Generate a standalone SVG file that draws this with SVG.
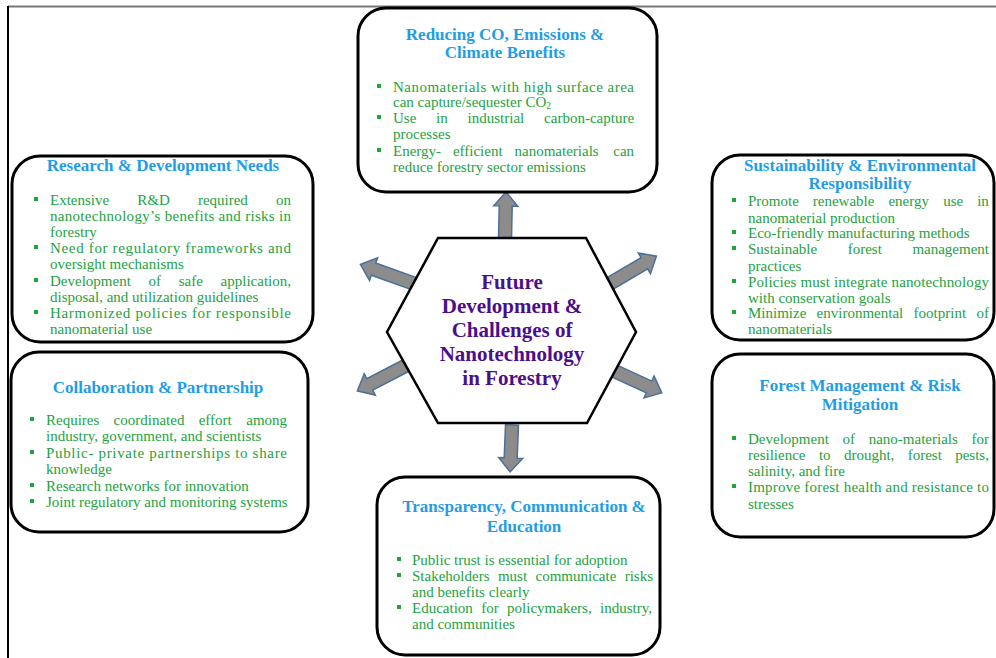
<svg xmlns="http://www.w3.org/2000/svg" width="996" height="658" viewBox="0 0 996 658">
<style>
.box{fill:#fff;stroke:#000;stroke-width:3}
.hex{fill:#fff;stroke:#000;stroke-width:2.5}
.ttl{font-family:"Liberation Serif","Times New Roman",serif;font-weight:bold;font-size:17px;fill:#1f9de6;text-anchor:middle}
.txt{font-family:"Liberation Serif","Times New Roman",serif;font-size:15px;fill:#22a33f}
.ctr{font-family:"Liberation Serif","Times New Roman",serif;font-weight:bold;font-size:21px;fill:#4b0f8c;text-anchor:middle}
.arr{fill:#8c8c8c;stroke:#4d6f98;stroke-width:1.5;stroke-linejoin:miter}
.bul{fill:#22a33f}
</style>
<rect width="996" height="658" fill="#fff"/>
<line x1="8" y1="6.5" x2="996" y2="6.5" stroke="#777" stroke-width="2"/>
<line x1="8" y1="6" x2="8" y2="658" stroke="#000" stroke-width="2"/>

<g id="connectors">
<polygon class="arr" transform="translate(505,240) rotate(-88.8)" points="0,-6.5 34,-6.5 34,-12 48,0 34,12 34,6.5 0,6.5"/>
<polygon class="arr" transform="translate(512,425) rotate(92.3)" points="0,-6.5 33,-6.5 33,-12 47,0 33,12 33,6.5 0,6.5"/>
<polygon class="arr" transform="translate(415,284) rotate(-160.3)" points="0,-6.5 44,-6.5 44,-12 58,0 44,12 44,6.5 0,6.5"/>
<polygon class="arr" transform="translate(609,284) rotate(-30.4)" points="0,-6.5 41,-6.5 41,-12 55,0 41,12 41,6.5 0,6.5"/>
<polygon class="arr" transform="translate(407,365) rotate(152.5)" points="0,-6.5 42,-6.5 42,-12 56,0 42,12 42,6.5 0,6.5"/>
<polygon class="arr" transform="translate(610,369) rotate(24.7)" points="0,-6.5 43,-6.5 43,-12 57,0 43,12 43,6.5 0,6.5"/>
</g>

<g id="center">
<polygon class="hex" points="438,238 586,238 636,332 587,423 438,423 387,332"/>
<text class="ctr" x="512" y="289">Future</text>
<text class="ctr" x="512" y="313">Development &amp;</text>
<text class="ctr" x="512" y="337">Challenges of</text>
<text class="ctr" x="512" y="361">Nanotechnology</text>
<text class="ctr" x="512" y="385">in Forestry</text>
</g>

<g id="climate">
<rect class="box" x="358" y="8" width="299" height="184" rx="28"/>
<text class="ttl" x="505" y="40">Reducing CO, Emissions &amp;</text>
<text class="ttl" x="505" y="58">Climate Benefits</text>
<rect class="bul" x="377" y="84" width="4" height="4"/>
<rect class="bul" x="377" y="115" width="4" height="4"/>
<rect class="bul" x="377" y="148" width="4" height="4"/>
<text class="txt" x="393" y="92" textLength="241" lengthAdjust="spacing">Nanomaterials with high surface area</text>
<text class="txt" x="393" y="107">can capture/sequester CO<tspan font-size="9.5" dy="2">2</tspan></text>
<text class="txt" y="123"><tspan x="393">Use</tspan><tspan x="436.1">in</tspan><tspan x="467.6">industrial</tspan><tspan x="544.1">carbon-capture</tspan></text>
<text class="txt" x="393" y="139">processes</text>
<text class="txt" y="156"><tspan x="393">Energy-</tspan><tspan x="452.9">efficient</tspan><tspan x="514.5">nanomaterials</tspan><tspan x="613.3">can</tspan></text>
<text class="txt" x="393" y="172">reduce forestry sector emissions</text>
</g>

<g id="research">
<rect class="box" x="12" y="156" width="301" height="186" rx="28"/>
<text class="ttl" x="163" y="171">Research &amp; Development Needs</text>
<rect class="bul" x="34" y="197" width="4" height="4"/>
<rect class="bul" x="34" y="245" width="4" height="4"/>
<rect class="bul" x="34" y="278" width="4" height="4"/>
<rect class="bul" x="34" y="310" width="4" height="4"/>
<text class="txt" y="205"><tspan x="50">Extensive</tspan><tspan x="137.3">R&amp;D</tspan><tspan x="197.9">required</tspan><tspan x="276">on</tspan></text>
<text class="txt" x="50" y="221" textLength="241" lengthAdjust="spacing">nanotechnology’s benefits and risks in</text>
<text class="txt" x="50" y="237">forestry</text>
<text class="txt" x="50" y="253" textLength="241" lengthAdjust="spacing">Need for regulatory frameworks and</text>
<text class="txt" x="50" y="269">oversight mechanisms</text>
<text class="txt" y="286"><tspan x="50">Development</tspan><tspan x="148.5">of</tspan><tspan x="178.7">safe</tspan><tspan x="220.6">application,</tspan></text>
<text class="txt" x="50" y="302">disposal, and utilization guidelines</text>
<text class="txt" x="50" y="318" textLength="241" lengthAdjust="spacing">Harmonized policies for responsible</text>
<text class="txt" x="50" y="334">nanomaterial use</text>
</g>

<g id="collaboration">
<rect class="box" x="11" y="352" width="297" height="180" rx="28"/>
<text class="ttl" x="158" y="393">Collaboration &amp; Partnership</text>
<rect class="bul" x="30" y="417" width="4" height="4"/>
<rect class="bul" x="30" y="450" width="4" height="4"/>
<rect class="bul" x="30" y="483" width="4" height="4"/>
<rect class="bul" x="30" y="499" width="4" height="4"/>
<text class="txt" y="425"><tspan x="46">Requires</tspan><tspan x="113.6">coordinated</tspan><tspan x="198.7">effort</tspan><tspan x="246.3">among</tspan></text>
<text class="txt" x="46" y="441">industry, government, and scientists</text>
<text class="txt" x="46" y="458" textLength="241" lengthAdjust="spacing">Public- private partnerships to share</text>
<text class="txt" x="46" y="474">knowledge</text>
<text class="txt" x="46" y="491">Research networks for innovation</text>
<text class="txt" x="46" y="507">Joint regulatory and monitoring systems</text>
</g>

<g id="sustainability">
<rect class="box" x="712" y="155" width="282" height="185" rx="28"/>
<text class="ttl" x="860" y="171">Sustainability &amp; Environmental</text>
<text class="ttl" x="860" y="189">Responsibility</text>
<rect class="bul" x="732" y="198" width="4" height="4"/>
<rect class="bul" x="732" y="230" width="4" height="4"/>
<rect class="bul" x="732" y="246" width="4" height="4"/>
<rect class="bul" x="732" y="279" width="4" height="4"/>
<rect class="bul" x="732" y="310" width="4" height="4"/>
<text class="txt" y="206"><tspan x="748">Promote</tspan><tspan x="812.8">renewable</tspan><tspan x="888.4">energy</tspan><tspan x="943.2">use</tspan><tspan x="977.2">in</tspan></text>
<text class="txt" x="748" y="223">nanomaterial production</text>
<text class="txt" x="748" y="238">Eco-friendly manufacturing methods</text>
<text class="txt" y="254"><tspan x="748">Sustainable</tspan><tspan x="847.7">forest</tspan><tspan x="912.4">management</tspan></text>
<text class="txt" x="748" y="271">practices</text>
<text class="txt" x="748" y="287" textLength="241" lengthAdjust="spacing">Policies must integrate nanotechnology</text>
<text class="txt" x="748" y="303">with conservation goals</text>
<text class="txt" y="318"><tspan x="748">Minimize</tspan><tspan x="816.6">environmental</tspan><tspan x="913.6">footprint</tspan><tspan x="976.6">of</tspan></text>
<text class="txt" x="748" y="334">nanomaterials</text>
</g>

<g id="forest">
<rect class="box" x="712" y="354" width="282" height="183" rx="28"/>
<text class="ttl" x="860" y="391">Forest Management &amp; Risk</text>
<text class="ttl" x="860" y="410">Mitigation</text>
<rect class="bul" x="732" y="436" width="4" height="4"/>
<rect class="bul" x="732" y="484" width="4" height="4"/>
<text class="txt" y="444"><tspan x="748">Development</tspan><tspan x="842.5">of</tspan><tspan x="868.7">nano-materials</tspan><tspan x="971.5">for</tspan></text>
<text class="txt" y="460"><tspan x="748">resilience</tspan><tspan x="818.9">to</tspan><tspan x="843.9">drought,</tspan><tspan x="907.7">forest</tspan><tspan x="955.2">pests,</tspan></text>
<text class="txt" x="748" y="476">salinity, and fire</text>
<text class="txt" x="748" y="492" textLength="241" lengthAdjust="spacing">Improve forest health and resistance to</text>
<text class="txt" x="748" y="509">stresses</text>
</g>

<g id="transparency">
<rect class="box" x="377" y="477" width="283" height="178" rx="28"/>
<text class="ttl" x="524" y="512">Transparency, Communication &amp;</text>
<text class="ttl" x="524" y="532">Education</text>
<rect class="bul" x="397" y="557" width="4" height="4"/>
<rect class="bul" x="397" y="573" width="4" height="4"/>
<rect class="bul" x="397" y="605" width="4" height="4"/>
<text class="txt" x="412" y="565">Public trust is essential for adoption</text>
<text class="txt" y="581"><tspan x="412">Stakeholders</tspan><tspan x="497.9">must</tspan><tspan x="535.5">communicate</tspan><tspan x="624.7">risks</tspan></text>
<text class="txt" x="412" y="597">and benefits clearly</text>
<text class="txt" y="613"><tspan x="412">Education</tspan><tspan x="481.2">for</tspan><tspan x="507.1">policymakers,</tspan><tspan x="600.1">industry,</tspan></text>
<text class="txt" x="412" y="629">and communities</text>
</g>
</svg>
